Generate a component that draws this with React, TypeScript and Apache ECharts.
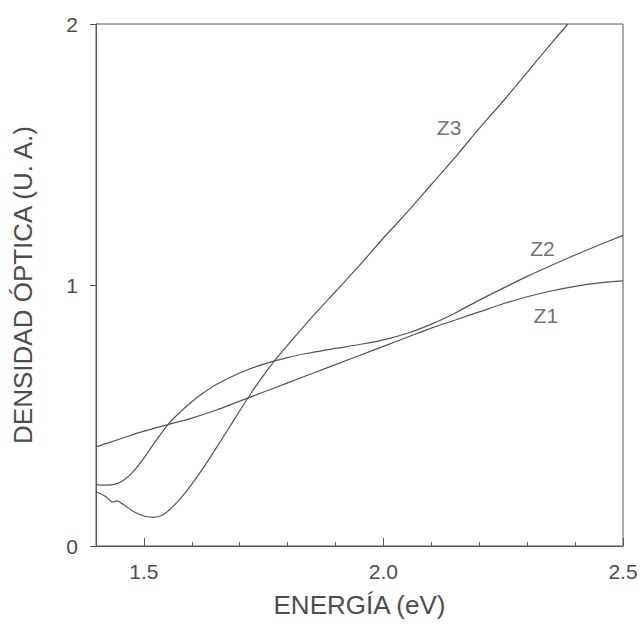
import React, { useEffect, useRef } from "react";
import * as echarts from "echarts";

// Energy (eV) and optical density readings for each curve
const z1X = [1.4, 1.45, 1.5, 1.55, 1.6, 1.65, 1.7, 1.75, 1.8, 1.85, 1.9, 1.95, 2.0, 2.05, 2.1, 2.15, 2.2, 2.25, 2.3, 2.35, 2.4, 2.45, 2.5];
const z1Y = [0.38, 0.41, 0.44, 0.465, 0.49, 0.52, 0.555, 0.59, 0.625, 0.66, 0.695, 0.73, 0.765, 0.8, 0.835, 0.866, 0.897, 0.928, 0.955, 0.977, 0.995, 1.008, 1.016];

const z2X = [1.4, 1.42, 1.44, 1.46, 1.48, 1.5, 1.52, 1.55, 1.575, 1.6, 1.625, 1.65, 1.7, 1.75, 1.8, 1.85, 1.9, 1.95, 2.0, 2.05, 2.1, 2.15, 2.2, 2.25, 2.3, 2.35, 2.4, 2.45, 2.5];
const z2Y = [0.235, 0.233, 0.237, 0.255, 0.29, 0.337, 0.39, 0.465, 0.512, 0.553, 0.588, 0.618, 0.663, 0.697, 0.722, 0.741, 0.757, 0.772, 0.79, 0.815, 0.85, 0.893, 0.942, 0.988, 1.033, 1.075, 1.115, 1.153, 1.19];

const z3X = [1.4, 1.42, 1.435, 1.443, 1.46, 1.48, 1.5, 1.52, 1.54, 1.56, 1.58, 1.6, 1.625, 1.65, 1.675, 1.7, 1.725, 1.75, 1.775, 1.8, 1.85, 1.9, 1.95, 2.0, 2.05, 2.1, 2.15, 2.2, 2.25, 2.3, 2.35, 2.385];
const z3Y = [0.208, 0.19, 0.168, 0.173, 0.155, 0.13, 0.115, 0.11, 0.12, 0.15, 0.19, 0.237, 0.302, 0.373, 0.445, 0.518, 0.589, 0.655, 0.715, 0.77, 0.875, 0.975, 1.075, 1.18, 1.28, 1.385, 1.49, 1.6, 1.705, 1.815, 1.925, 2.0];

// Curve labels placed in data coordinates
const labelNames = ["Z3", "Z2", "Z1"];
const labelX = [2.137, 2.332, 2.339];
const labelY = [1.605, 1.14, 0.885];

const xTickLabels = [1.5, 2.0, 2.5];
const yTickValues = [0, 1, 2];

const FONT = "'Liberation Sans', Arial, Helvetica, sans-serif";
const INK = "#555555";
const TEXT = "#4d4d4d";

const zip = (xs: number[], ys: number[]) => xs.map((x, i) => [x, ys[i]]);

export default function App() {
  const ref = useRef<HTMLDivElement>(null);
  useEffect(() => {
    if (!ref.current) return;
    const chart = echarts.init(ref.current, undefined, { renderer: "svg" });
    const lineSeries = (name: string, data: number[][]) => ({
      name,
      type: "line",
      data,
      showSymbol: false,
      smooth: 0.35,
      clip: true,
      lineStyle: { color: INK, width: 1.2 },
      z: 3,
    });
    chart.setOption({
      animation: false,
      backgroundColor: "#ffffff",
      textStyle: { fontFamily: FONT },
      grid: {
        left: 96,
        top: 24,
        right: 19,
        bottom: 94,
        show: true,
        borderColor: INK,
        borderWidth: 1,
        backgroundColor: "transparent",
      },
      xAxis: [
        {
          type: "value",
          min: 1.4,
          max: 2.5,
          interval: 0.1,
          name: "ENERGÍA (eV)",
          nameLocation: "middle",
          nameGap: 46,
          nameTextStyle: { fontSize: 26, color: TEXT, fontFamily: FONT },
          axisLine: { show: true, lineStyle: { color: INK, width: 1 } },
          axisTick: { show: true, inside: true, length: 4, lineStyle: { color: INK } },
          axisLabel: {
            customValues: xTickLabels,
            formatter: (v: number) => v.toFixed(1),
            fontSize: 21,
            color: TEXT,
            margin: 15,
            fontFamily: FONT,
          },
          splitLine: { show: false },
        },
        {
          type: "value",
          min: 1.4,
          max: 2.5,
          position: "bottom",
          axisLine: { show: false },
          axisTick: { show: true, inside: true, length: 8, customValues: xTickLabels, lineStyle: { color: INK } },
          axisLabel: { show: false },
          splitLine: { show: false },
        },
      ],
      yAxis: {
        type: "value",
        min: 0,
        max: 2,
        interval: 1,
        name: "DENSIDAD ÓPTICA (U. A.)",
        nameLocation: "middle",
        nameGap: 60,
        nameTextStyle: { fontSize: 26, color: TEXT, fontFamily: FONT },
        axisLine: { show: true, lineStyle: { color: INK, width: 1 } },
        axisTick: { show: true, inside: false, length: 6, lineStyle: { color: INK } },
        axisLabel: {
          customValues: yTickValues,
          fontSize: 21,
          color: TEXT,
          margin: 18,
          fontFamily: FONT,
        },
        splitLine: { show: false },
      },
      series: [
        lineSeries("Z1", zip(z1X, z1Y)),
        lineSeries("Z2", zip(z2X, z2Y)),
        lineSeries("Z3", zip(z3X, z3Y)),
        {
          type: "scatter",
          symbolSize: 0,
          data: labelNames.map((n, i) => ({ name: n, value: [labelX[i], labelY[i]] })),
          label: {
            show: true,
            position: "inside",
            formatter: (p: any) => p.name,
            fontSize: 21,
            color: TEXT,
            fontFamily: FONT,
          },
          z: 4,
        },
      ],
    });
    return () => chart.dispose();
  }, []);
  return (
    <div
      ref={ref}
      style={{ position: "fixed", left: 0, top: 0, width: 642, height: 640, background: "#fff" }}
    />
  );
}
